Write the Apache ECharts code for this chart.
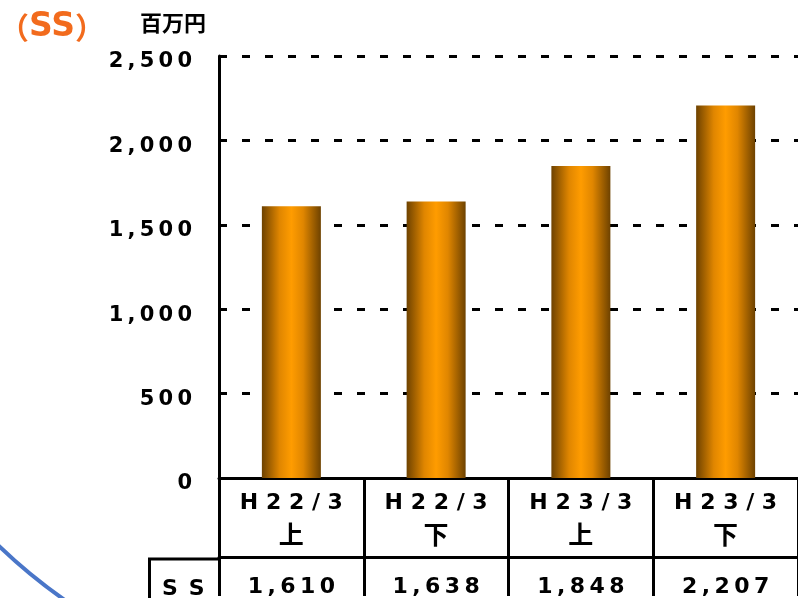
<!DOCTYPE html>
<html>
<head>
<meta charset="utf-8">
<script src="https://cdn.jsdelivr.net/npm/echarts@6/dist/echarts.min.js"></script>
<style>
  html, body { margin: 0; padding: 0; background: #fff; }
  #chart { width: 798px; height: 598px; }
</style>
</head>
<body>
<div id="chart"></div>
<script>
// data
var periods = ['H22/3', 'H22/3', 'H23/3', 'H23/3'];
var halves = ['上', '下', '上', '下'];
var ssValues = [1610, 1638, 1848, 2207];
var yMin = 0, yMax = 2500, yStep = 500;
var unitName = '百万円';
var rowName = 'SS';

var FONT = "'DejaVu Sans','Noto Sans CJK JP',sans-serif";
var CJK = "'Noto Sans CJK JP',sans-serif";

function spaced(s, sep) {
  return String(s).split('').join(sep);
}
function fmt(v) {
  return String(v).replace(/\B(?=(\d{3})+(?!\d))/g, ',');
}

var categories = [];
for (var i = 0; i < periods.length; i++) {
  categories.push(periods[i] + ' ' + halves[i]);
}

var barColor = new echarts.graphic.LinearGradient(0, 0, 1, 0, [
  { offset: 0, color: '#6e4200' },
  { offset: 0.3, color: '#e08600' },
  { offset: 0.5, color: '#ff9c00' },
  { offset: 0.7, color: '#e08600' },
  { offset: 1, color: '#6e4200' }
]);

var chart = echarts.init(document.getElementById('chart'));
chart.setOption({
  backgroundColor: '#fff',
  animation: false,
  grid: { left: 219, top: 56, width: 584, height: 424 },
  xAxis: [{
    type: 'category',
    data: categories,
    position: 'bottom',
    axisLine: { show: true, lineStyle: { color: '#000', width: 3 } },
    axisTick: { show: true, interval: 0, length: 118, lineStyle: { color: '#000', width: 3 } },
    axisLabel: {
      interval: 0,
      margin: 9,
      formatter: function (v, i) {
        return '{a|' + spaced(periods[i], ' ') + '}\n{b|' + halves[i] + '}';
      },
      rich: {
        a: { fontSize: 22, fontWeight: 'bold', fontFamily: FONT, color: '#000', lineHeight: 32 },
        b: { fontSize: 25, fontWeight: 'bold', fontFamily: CJK, color: '#000', lineHeight: 32 }
      }
    }
  }, {
    type: 'category',
    data: categories,
    position: 'bottom',
    offset: 79,
    axisLine: { show: true, onZero: false, lineStyle: { color: '#000', width: 3 } },
    axisTick: { show: false },
    axisLabel: {
      interval: 0,
      margin: 19,
      fontSize: 22,
      fontWeight: 'bold',
      fontFamily: FONT,
      color: '#000',
      formatter: function (v, i) {
        return spaced(fmt(ssValues[i]), '\u2009');
      }
    }
  }],
  yAxis: {
    type: 'value',
    min: yMin,
    max: yMax,
    interval: yStep,
    name: unitName,
    nameLocation: 'end',
    nameGap: 22,
    nameTextStyle: {
      fontSize: 22, fontWeight: 'bold', fontFamily: CJK, color: '#000',
      align: 'right', padding: [0, 13, 0, 0]
    },
    axisLine: { show: true, lineStyle: { color: '#000', width: 3 } },
    axisTick: { show: false },
    splitLine: { show: true, lineStyle: { color: '#000', width: 3, type: [8, 15] } },
    axisLabel: {
      margin: 27,
      fontSize: 21,
      fontWeight: 'bold',
      fontFamily: FONT,
      color: '#000',
      verticalAlign: 'top',
      lineHeight: 12,
      formatter: function (v) { return spaced(fmt(v), '\u2009'); }
    }
  },
  series: [{
    type: 'bar',
    data: ssValues,
    barWidth: 59,
    itemStyle: { color: barColor }
  }],
  graphic: [
    {
      type: 'text', left: -1, top: 11,
      style: {
        text: '{p|（}{s|SS}{p|）}',
        rich: {
          p: { fontSize: 30, fontWeight: 'bold', fontFamily: CJK, fill: '#f26b1d' },
          s: { fontSize: 33, fontWeight: 'bold', fontFamily: FONT, fill: '#f26b1d' }
        }
      }
    },
    {
      type: 'arc',
      shape: { cx: 385, cy: 143, r: 558, startAngle: 2.05, endAngle: 2.45, clockwise: true },
      style: { stroke: '#4a76c8', lineWidth: 4, fill: null }
    },
    {
      type: 'line',
      shape: { x1: 148, y1: 559, x2: 220, y2: 559 },
      style: { stroke: '#000', lineWidth: 3 }
    },
    {
      type: 'line',
      shape: { x1: 149.5, y1: 558, x2: 149.5, y2: 600 },
      style: { stroke: '#000', lineWidth: 3 }
    },
    {
      type: 'text', left: 162, top: 578,
      style: { text: spaced(rowName, '\u2002'), fontSize: 22, fontWeight: 'bold', fontFamily: FONT, fill: '#000' }
    }
  ]
});
</script>
</body>
</html>
